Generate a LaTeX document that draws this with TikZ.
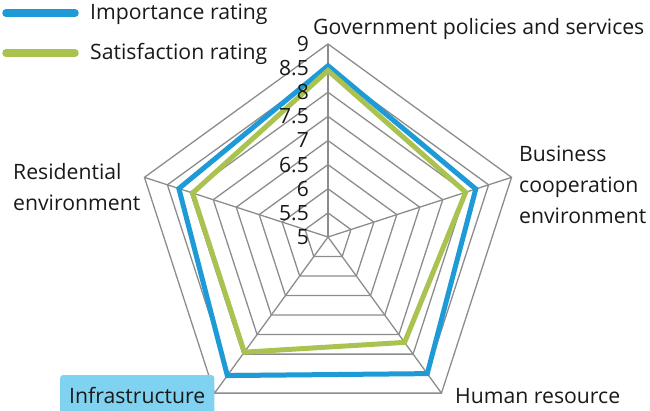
\documentclass[tikz,border=0pt]{standalone}
\usepackage{fontspec}
\setmainfont{Open Sans}
\definecolor{impblue}{RGB}{30,155,215}
\definecolor{satgreen}{RGB}{170,195,80}
\definecolor{gridgray}{RGB}{140,140,140}
\definecolor{hlblue}{RGB}{127,211,240}
\definecolor{txt}{RGB}{25,25,25}
\tikzset{
  gridline/.style={draw=gridgray, line width=1.3pt},
  impline/.style={draw=impblue, line width=5pt, line join=miter},
  satline/.style={draw=satgreen, line width=5pt, line join=miter},
  lbl/.style={font=\fontsize{21.2}{31}\selectfont, text=txt, inner sep=0pt},
  tick/.style={font=\fontsize{21}{22}\selectfont, text=txt, inner sep=0pt, anchor=east},
}
\begin{document}
\begin{tikzpicture}[x=1pt,y=-1pt]
\useasboundingbox (0,0) rectangle (650,411);
\coordinate (O) at (328,237);
% grid rings
\foreach \k in {1,...,8} {
  \pgfmathsetmacro{\rr}{\k*24.125}
  \draw[gridline] ({328+\rr*cos(90)},{237-\rr*sin(90)})
    -- ({328+\rr*cos(18)},{237-\rr*sin(18)})
    -- ({328+\rr*cos(-54)},{237-\rr*sin(-54)})
    -- ({328+\rr*cos(-126)},{237-\rr*sin(-126)})
    -- ({328+\rr*cos(162)},{237-\rr*sin(162)}) -- cycle;
}
% spokes
\foreach \n/\a in {g/90,b/18,h/-54,i/-126,r/162} {
  \coordinate (V\n) at ({328+193*cos(\a)},{237-193*sin(\a)});
  \draw[gridline] (O) -- (V\n);
}
% data points
\foreach \n/\a/\vi/\vs in {g/90/8.55/8.45, b/18/8.22/8.0, h/-54/8.5/7.7, i/-126/8.55/7.95, r/162/8.25/7.95} {
  \coordinate (I\n) at ({328+(\vi-5)*48.25*cos(\a)},{237-(\vi-5)*48.25*sin(\a)});
  \coordinate (S\n) at ({328+(\vs-5)*48.25*cos(\a)},{237-(\vs-5)*48.25*sin(\a)});
}
\draw[impline] (Ig) -- (Ib) -- (Ih) -- (Ii) -- (Ir) -- cycle;
\draw[satline] (Sg) -- (Sb) -- (Sh) -- (Si) -- (Sr) -- cycle;
% tick labels (on top of the data lines)
\foreach \k/\t in {0/5,1/5.5,2/6,3/6.5,4/7,5/7.5,6/8,7/8.5,8/9} {
  \node[tick] (t\k) at (309,{237-\k*24.125}) {\t};
}
% legend
\coordinate (L1a) at (6,13); \coordinate (L1b) at (75,13);
\coordinate (L2a) at (6,53); \coordinate (L2b) at (75,53);
\draw[draw=impblue, line width=7.5pt, line cap=round] (L1a) -- (L1b);
\draw[draw=satgreen, line width=7.5pt, line cap=round] (L2a) -- (L2b);
\node[lbl, anchor=base west] (limp) at (90,20) {Importance rating};
\node[lbl, anchor=base west] (lsat) at (90,60) {Satisfaction rating};
% axis labels
\node[lbl, anchor=base west] (gov) at (313,35) {Government policies and services};
\node[lbl, anchor=base west, align=left] (bus) at (519,224) {Business\\cooperation\\environment};
\node[lbl, anchor=base west] (hum) at (455,403) {Human resource};
\node[lbl, anchor=base west, fill=hlblue, rounded corners=3pt, inner xsep=9pt, inner ysep=0pt, text height=28pt, text depth=14pt] (inf) at (60,403) {Infrastructure};
\node[lbl, anchor=base west, align=left] (res) at (13,211) {Residential\\environment};
\end{tikzpicture}
\end{document}
